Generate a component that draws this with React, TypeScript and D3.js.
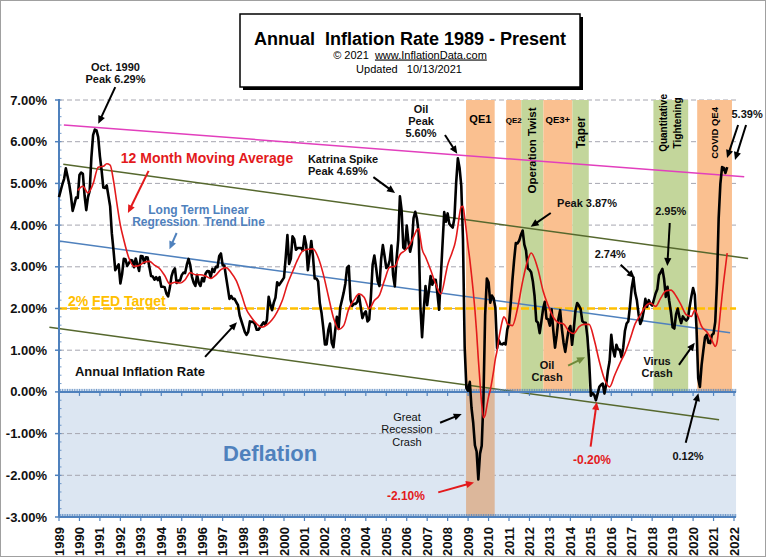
import React from "react";
import * as d3 from "d3";

// ---------- DATA ----------
const yearLabels: number[] = d3.range(1989, 2023);
const percentTicks: number[] = [7, 6, 5, 4, 3, 2, 1, 0, -1, -2, -3];

// Annual inflation rate, monthly from Jan 1989 to Sep 2021 (%)
const inflation: number[] = [
  4.67, 4.83, 4.98, 5.11, 5.36, 5.17, 4.98, 4.71, 4.34, 4.49, 4.66, 4.65,
  5.2, 5.26, 5.23, 4.71, 4.36, 4.67, 4.82, 5.62, 6.16, 6.29, 6.27, 6.11,
  5.65, 5.31, 4.9, 4.89, 4.95, 4.7, 4.45, 3.8, 3.39, 2.92, 2.99, 3.06,
  2.6, 2.82, 3.19, 3.18, 3.02, 3.09, 3.16, 3.15, 2.99, 3.2, 3.05, 2.9,
  3.26, 3.25, 3.09, 3.23, 3.22, 3.0, 2.78, 2.77, 2.69, 2.75, 2.68, 2.75,
  2.52, 2.52, 2.51, 2.36, 2.29, 2.49, 2.77, 2.9, 2.96, 2.61, 2.67, 2.67,
  2.8, 2.86, 2.85, 3.05, 3.19, 3.04, 2.76, 2.62, 2.54, 2.81, 2.61, 2.54,
  2.73, 2.65, 2.84, 2.9, 2.89, 2.75, 2.95, 2.88, 3.0, 2.99, 3.26, 3.32,
  3.04, 3.03, 2.76, 2.5, 2.23, 2.3, 2.23, 2.23, 2.15, 2.08, 1.83, 1.7,
  1.57, 1.44, 1.37, 1.44, 1.69, 1.68, 1.68, 1.62, 1.49, 1.49, 1.55, 1.61,
  1.67, 1.61, 1.73, 2.28, 2.09, 1.96, 2.14, 2.26, 2.63, 2.56, 2.62, 2.68,
  2.74, 3.22, 3.76, 3.07, 3.19, 3.73, 3.66, 3.41, 3.45, 3.45, 3.45, 3.39,
  3.73, 3.53, 2.92, 3.27, 3.62, 3.25, 2.72, 2.72, 2.65, 2.13, 1.9, 1.55,
  1.14, 1.14, 1.48, 1.64, 1.18, 1.07, 1.46, 1.8, 1.51, 2.03, 2.2, 2.38,
  2.6, 2.98, 3.02, 2.22, 2.06, 2.11, 2.11, 2.16, 2.32, 2.04, 1.77, 1.88,
  1.93, 1.69, 1.74, 2.29, 3.05, 3.27, 2.99, 2.65, 2.54, 3.19, 3.52, 3.26,
  2.97, 3.01, 3.15, 3.51, 2.8, 2.53, 3.17, 3.64, 4.69, 4.35, 3.46, 3.42,
  3.99, 3.6, 3.36, 3.55, 4.17, 4.32, 4.15, 3.82, 2.06, 1.31, 1.97, 2.54,
  2.08, 2.42, 2.78, 2.57, 2.69, 2.69, 2.36, 1.97, 2.76, 3.54, 4.31, 4.08,
  4.28, 4.03, 3.98, 3.94, 4.18, 5.02, 5.6, 5.37, 4.94, 3.66, 1.07, 0.09,
  0.03, 0.24, -0.38, -0.74, -1.28, -1.43, -2.1, -1.48, -1.29, -0.18, 1.84, 2.72,
  2.63, 2.14, 2.31, 2.24, 2.02, 1.05, 1.24, 1.15, 1.14, 1.17, 1.14, 1.5,
  1.63, 2.11, 2.68, 3.16, 3.57, 3.56, 3.63, 3.77, 3.87, 3.53, 3.39, 2.96,
  2.93, 2.87, 2.65, 2.3, 1.7, 1.66, 1.41, 1.69, 1.99, 2.16, 1.76, 1.74,
  1.59, 1.98, 1.47, 1.06, 1.36, 1.75, 1.96, 1.52, 1.18, 0.96, 1.24, 1.5,
  1.58, 1.13, 1.51, 1.95, 2.13, 2.07, 1.99, 1.7, 1.66, 1.66, 1.32, 0.76,
  -0.09, -0.03, -0.07, -0.2, -0.04, 0.12, 0.17, 0.2, -0.04, 0.17, 0.5, 0.73,
  1.37, 1.02, 0.85, 1.13, 1.02, 1.01, 0.83, 1.06, 1.46, 1.64, 1.69, 2.07,
  2.5, 2.74, 2.38, 2.2, 1.87, 1.63, 1.73, 1.94, 2.23, 2.04, 2.2, 2.11,
  2.07, 2.21, 2.36, 2.46, 2.8, 2.87, 2.95, 2.7, 2.28, 2.52, 2.18, 1.91,
  1.55, 1.52, 1.86, 2.0, 1.79, 1.65, 1.81, 1.75, 1.71, 1.76, 2.05, 2.29,
  2.49, 2.33, 1.54, 0.33, 0.12, 0.65, 0.99, 1.31, 1.37, 1.18, 1.17, 1.36,
  1.4, 1.68, 2.62, 4.16, 4.99, 5.39, 5.37, 5.25, 5.39,
];

// 12 month moving average, read at these months (%)
const movingAverage: [string, number][] = [
  ["1989-12", 4.83], ["1990-03", 4.93], ["1990-06", 4.77], ["1990-09", 4.99], ["1990-12", 5.39],
  ["1991-03", 5.41], ["1991-05", 5.47], ["1991-07", 5.44], ["1991-09", 5.06], ["1991-11", 4.51],
  ["1992-01", 4.0], ["1992-03", 3.65], ["1992-06", 3.21], ["1992-09", 3.01], ["1992-12", 3.03],
  ["1993-03", 3.11], ["1993-06", 3.13], ["1993-09", 3.04], ["1993-12", 2.96],
  ["1994-03", 2.79], ["1994-06", 2.59], ["1994-09", 2.63], ["1994-12", 2.61],
  ["1995-03", 2.69], ["1995-06", 2.86], ["1995-09", 2.81], ["1995-12", 2.81],
  ["1996-03", 2.78], ["1996-06", 2.72], ["1996-09", 2.8], ["1996-12", 2.93],
  ["1997-03", 2.98], ["1997-06", 2.86], ["1997-09", 2.67], ["1997-12", 2.34],
  ["1998-03", 1.97], ["1998-06", 1.78], ["1998-09", 1.63], ["1998-12", 1.55],
  ["1999-03", 1.61], ["1999-06", 1.73], ["1999-09", 1.92], ["1999-12", 2.19],
  ["2000-03", 2.58], ["2000-06", 2.88], ["2000-09", 3.17], ["2000-12", 3.38],
  ["2001-03", 3.42], ["2001-06", 3.43], ["2001-09", 3.23], ["2001-12", 2.83],
  ["2002-03", 2.3], ["2002-06", 1.78], ["2002-09", 1.5], ["2002-12", 1.59],
  ["2003-03", 1.99], ["2003-06", 2.2], ["2003-09", 2.35], ["2003-12", 2.27],
  ["2004-03", 2.0], ["2004-06", 2.19], ["2004-09", 2.32], ["2004-12", 2.68],
  ["2005-03", 2.99], ["2005-06", 3.01], ["2005-09", 3.29], ["2005-12", 3.39],
  ["2006-03", 3.54], ["2006-06", 3.81], ["2006-07", 3.89], ["2006-08", 3.91], ["2006-09", 3.69],
  ["2006-10", 3.43], ["2006-12", 3.24],
  ["2007-03", 2.93], ["2007-06", 2.59], ["2007-09", 2.35], ["2007-12", 2.85],
  ["2008-01", 3.04], ["2008-02", 3.17], ["2008-03", 3.27], ["2008-04", 3.39], ["2008-05", 3.51],
  ["2008-06", 3.7], ["2008-07", 3.97], ["2008-08", 4.26], ["2008-09", 4.44], ["2008-10", 4.45],
  ["2008-11", 4.18], ["2008-12", 3.85],
  ["2009-01", 3.49], ["2009-02", 3.18], ["2009-03", 2.81], ["2009-04", 2.42], ["2009-05", 1.97],
  ["2009-06", 1.43], ["2009-07", 0.79], ["2009-08", 0.22], ["2009-09", -0.3], ["2009-10", -0.62],
  ["2009-11", -0.56], ["2009-12", -0.34],
  ["2010-01", -0.12], ["2010-02", 0.04], ["2010-03", 0.26], ["2010-04", 0.51], ["2010-05", 0.79],
  ["2010-06", 0.99], ["2010-07", 1.27], ["2010-08", 1.49], ["2010-09", 1.69], ["2010-10", 1.8],
  ["2010-11", 1.75], ["2010-12", 1.64],
  ["2011-03", 1.59], ["2011-06", 2.0], ["2011-09", 2.65], ["2011-12", 3.16],
  ["2012-02", 3.33], ["2012-06", 2.94], ["2012-09", 2.42], ["2012-12", 2.07],
  ["2013-03", 1.79], ["2013-06", 1.66], ["2013-09", 1.63], ["2013-12", 1.46],
  ["2014-03", 1.4], ["2014-06", 1.56], ["2014-09", 1.62], ["2014-12", 1.62],
  ["2015-03", 1.25], ["2015-06", 0.73], ["2015-09", 0.31], ["2015-12", 0.12],
  ["2016-03", 0.4], ["2016-06", 0.68], ["2016-09", 0.93], ["2016-12", 1.26],
  ["2017-03", 1.63], ["2017-06", 1.84], ["2017-09", 2.05], ["2017-12", 2.13],
  ["2018-03", 2.05], ["2018-06", 2.25], ["2018-09", 2.42], ["2018-12", 2.44],
  ["2019-03", 2.3], ["2019-06", 2.08], ["2019-09", 1.85], ["2019-12", 1.81],
  ["2020-02", 1.96], ["2020-04", 1.79], ["2020-06", 1.57], ["2020-09", 1.44], ["2020-12", 1.24],
  ["2021-01", 1.15], ["2021-02", 1.09], ["2021-03", 1.18], ["2021-04", 1.5], ["2021-05", 1.91],
  ["2021-06", 2.3], ["2021-07", 2.67], ["2021-08", 3.0], ["2021-09", 3.33],
];

// Trend / channel lines: [year, %] at each end
const trendNames: string[] = ["Top channel", "Upper channel", "Long term regression", "Lower channel"];
const trendFrom: [number, number][] = [[1989.24, 6.4], [1989.21, 5.46], [1989.0, 3.62], [1988.53, 1.55]];
const trendTo: [number, number][] = [[2022.5, 5.16], [2022.69, 3.2], [2021.81, 1.42], [2021.27, -0.67]];

const fedTarget = 2;

// Policy periods
const bandLabels: string[] = ["QE1", "QE2", "Operation Twist", "QE3+", "Taper", "Quantitative Tightening", "COVID QE4"];
const bandStart: number[] = [2008.9, 2010.86, 2011.6, 2012.68, 2014.1, 2018.06, 2020.2];
const bandEnd: number[] = [2010.3, 2011.6, 2012.68, 2014.1, 2014.9, 2019.76, 2021.9];
const bandIsEasing: boolean[] = [true, true, false, true, false, false, true];

// ---------- LAYOUT ----------
const W = 768;
const H = 558;
const FONT = "Arial, 'Liberation Sans', Helvetica, sans-serif";
const x = d3.scaleLinear().domain([1989, 2022]).range([59, 734]);
const y = d3.scaleLinear().domain([-3, 7]).range([517, 100]);
const plotLeft = x(1989);
const plotRight = x(2022.1);

const C = {
  black: "#000000",
  red: "#e31a1c",
  blue: "#4f81bd",
  gold: "#ffc000",
  pink: "#e23fbd",
  olive: "#56682e",
  grid: "#a6a6b0",
  orange: "#fac090",
  green: "#c3d69b",
  deflation: "#dce6f2",
  tan: "#dcb79b",
  arrowGreen: "#6f8a3a",
};
const trendColors = [C.pink, C.olive, C.blue, C.olive];

type Note = { t: string; yr: number; v: number; anchor?: string; color?: string; size?: number; weight?: string };
const notes: Note[] = [
  { t: "Oct. 1990", yr: 1991.76, v: 7.7 },
  { t: "Peak 6.29%", yr: 1991.76, v: 7.4 },
  { t: "12 Month Moving Average", yr: 1992.02, v: 5.49, anchor: "start", color: C.red, size: 14 },
  { t: "Long Term Linear", yr: 1995.82, v: 4.27, color: C.blue, size: 12 },
  { t: "Regression  Trend Line", yr: 1995.82, v: 3.97, color: C.blue, size: 12 },
  { t: "2% FED Target", yr: 1989.44, v: 2.07, anchor: "start", color: C.gold, size: 14 },
  { t: "Annual Inflation Rate", yr: 1989.78, v: 0.38, anchor: "start", size: 13 },
  { t: "Katrina Spike", yr: 2001.17, v: 5.49, anchor: "start" },
  { t: "Peak 4.69%", yr: 2001.17, v: 5.2, anchor: "start" },
  { t: "Oil", yr: 2006.7, v: 6.7 },
  { t: "Peak", yr: 2006.7, v: 6.4 },
  { t: "5.60%", yr: 2006.7, v: 6.11 },
  { t: "Peak 3.87%", yr: 2013.35, v: 4.44, anchor: "start" },
  { t: "2.95%", yr: 2018.91, v: 4.24 },
  { t: "2.74%", yr: 2015.95, v: 3.21 },
  { t: "Oil", yr: 2012.86, v: 0.55 },
  { t: "Crash", yr: 2012.86, v: 0.26 },
  { t: "Virus", yr: 2018.24, v: 0.65 },
  { t: "Crash", yr: 2018.24, v: 0.36 },
  { t: "Great", yr: 2006.01, v: -0.69, size: 11, weight: "normal" },
  { t: "Recession", yr: 2006.01, v: -0.99, size: 11, weight: "normal" },
  { t: "Crash", yr: 2006.01, v: -1.29, size: 11, weight: "normal" },
  { t: "-2.10%", yr: 2005.96, v: -2.6, color: C.red, size: 12 },
  { t: "-0.20%", yr: 2015.06, v: -1.74, color: C.red, size: 12 },
  { t: "0.12%", yr: 2019.75, v: -1.63 },
  { t: "5.39%", yr: 2022.64, v: 6.56 },
  { t: "Deflation", yr: 1999.32, v: -1.65, color: C.blue, size: 22 },
];

type Pointer = { from: [number, number]; to: [number, number]; color?: string };
const pointers: Pointer[] = [
  { from: [1991.75, 7.31], to: [1990.92, 6.43] },
  { from: [1993.38, 5.3], to: [1992.37, 4.29], color: C.red },
  { from: [1994.75, 3.81], to: [1994.4, 3.42], color: C.blue },
  { from: [1996.14, 0.84], to: [1997.7, 1.67] },
  { from: [2004.37, 5.15], to: [2005.43, 4.77] },
  { from: [2007.87, 6.16], to: [2008.47, 5.71] },
  { from: [2013.04, 4.29], to: [2012.06, 3.96] },
  { from: [2018.86, 4.05], to: [2018.74, 3.02] },
  { from: [2016.46, 3.05], to: [2017.15, 2.73] },
  { from: [2013.89, 0.63], to: [2014.72, 0.83], color: C.arrowGreen },
  { from: [2019.31, 0.65], to: [2020.08, 1.18] },
  { from: [2007.63, -0.74], to: [2008.69, -0.53] },
  { from: [2007.54, -2.41], to: [2009.29, -2.17], color: C.red },
  { from: [2014.99, -1.31], to: [2015.29, -0.24], color: C.red },
  { from: [2019.64, -1.22], to: [2020.26, -0.03] },
  { from: [2022.2, 6.4], to: [2021.66, 5.61] },
  { from: [2022.59, 6.4], to: [2022.05, 5.56] },
];

function Arrow({ p }: { p: Pointer }) {
  const x1 = x(p.from[0]), y1 = y(p.from[1]);
  const x2 = x(p.to[0]), y2 = y(p.to[1]);
  const col = p.color || C.black;
  const dx = x2 - x1, dy = y2 - y1;
  const len = Math.hypot(dx, dy);
  const ux = dx / len, uy = dy / len;
  const hl = 8, hw = 3.6;
  const bx = x2 - ux * hl, by = y2 - uy * hl;
  const pts = `${x2},${y2} ${bx - uy * hw},${by + ux * hw} ${bx + uy * hw},${by - ux * hw}`;
  return (
    <g>
      <line x1={x1} y1={y1} x2={bx + ux} y2={by + uy} stroke={col} strokeWidth={2} />
      <polygon points={pts} fill={col} />
    </g>
  );
}

export default function App() {
  const monthly = inflation.map((v, i) => ({ t: 1989 + i / 12, v }));
  const blackPath = d3
    .line<{ t: number; v: number }>()
    .x((d) => x(d.t))
    .y((d) => y(d.v))(monthly) as string;

  const maPts = movingAverage.map(([m, v]) => {
    const [yy, mm] = m.split("-").map(Number);
    return { t: yy + (mm - 1) / 12, v };
  });
  const redPath = d3
    .line<{ t: number; v: number }>()
    .curve(d3.curveMonotoneX)
    .x((d) => x(d.t))
    .y((d) => y(d.v))(maPts) as string;

  const monthTicks = d3.range(0, 33 * 12 + 2).map((i) => 1989 + i / 12);
  const minorY = d3.range(-3, 7.001, 0.2);

  const axisTicks = (y0: number) => (
    <g>
      <line x1={plotLeft} x2={plotRight} y1={y0} y2={y0} stroke={C.blue} strokeWidth={2} />
      {monthTicks.map((t, i) => (
        <line key={"m" + i} x1={x(t)} x2={x(t)} y1={y0 - 3} y2={y0} stroke={C.blue} strokeWidth={0.8} />
      ))}
      {yearLabels.map((yr) => (
        <line key={"y" + yr} x1={x(yr)} x2={x(yr)} y1={y0} y2={y0 + 4} stroke={C.blue} strokeWidth={1.2} />
      ))}
    </g>
  );

  return (
    <svg
      width={W}
      height={H}
      viewBox={`0 0 ${W} ${H}`}
      style={{ position: "absolute", left: 0, top: 0, background: "#fff", fontFamily: FONT }}
    >
      <rect x={0} y={0} width={W} height={H} fill="#fff" />
      <rect x={0.5} y={0.5} width={765} height={556} fill="none" stroke="#a0a0a0" strokeWidth={1} />

      {/* deflation zone */}
      <rect x={plotLeft} y={y(0)} width={plotRight - plotLeft} height={y(-3) - y(0)} fill={C.deflation} />

      {/* gridlines */}
      {percentTicks
        .filter((v) => v !== 0 && v !== -3)
        .map((v) => (
          <line key={v} x1={plotLeft} x2={plotRight} y1={y(v)} y2={y(v)} stroke={C.grid} strokeWidth={1} strokeDasharray="5 3" />
        ))}

      {/* policy bands */}
      {bandLabels.map((b, i) => {
        const x0 = x(bandStart[i]);
        const x1 = x(bandEnd[i]);
        const fill = bandIsEasing[i] ? C.orange : C.green;
        return (
          <g key={b}>
            <rect x={x0} y={y(7)} width={x1 - x0} height={y(0) - y(7)} fill={fill} />
            {i === 0 && <rect x={x0} y={y(0)} width={x1 - x0} height={y(-3) - y(0)} fill={C.tan} />}
          </g>
        );
      })}

      {/* band labels */}
      {(() => {
        const mid = (i: number) => x((bandStart[i] + bandEnd[i]) / 2);
        return (
          <g fontWeight="bold" fill="#000">
            <text x={mid(0)} y={y(6.46)} textAnchor="middle" fontSize={11}>{bandLabels[0]}</text>
            <text x={mid(1)} y={y(6.46)} textAnchor="middle" fontSize={8}>{bandLabels[1]}</text>
            <text x={mid(3)} y={y(6.46)} textAnchor="middle" fontSize={9.5}>{bandLabels[3]}</text>
            <text transform={`translate(${mid(2)},${y(5.79)}) rotate(-90)`} textAnchor="middle" dominantBaseline="central" fontSize={11.5}>
              {bandLabels[2]}
            </text>
            <text transform={`translate(${mid(4)},${y(6.22)}) rotate(-90)`} textAnchor="middle" dominantBaseline="central" fontSize={12}>
              {bandLabels[4]}
            </text>
            <text transform={`translate(${mid(5) - 7},${y(6.45)}) rotate(-90)`} textAnchor="middle" dominantBaseline="central" fontSize={10}>
              Quantitative
            </text>
            <text transform={`translate(${mid(5) + 7},${y(6.45)}) rotate(-90)`} textAnchor="middle" dominantBaseline="central" fontSize={10}>
              Tightening
            </text>
            <text transform={`translate(${mid(6)},${y(6.21)}) rotate(-90)`} textAnchor="middle" dominantBaseline="central" fontSize={9.5}>
              {bandLabels[6]}
            </text>
          </g>
        );
      })()}

      {/* 2% target */}
      <line x1={plotLeft} x2={plotRight} y1={y(fedTarget)} y2={y(fedTarget)} stroke={C.gold} strokeWidth={2.5} strokeDasharray="8 3" />

      {/* trend & channel lines */}
      {trendNames.map((n, i) => (
        <line
          key={n}
          x1={x(trendFrom[i][0])}
          y1={y(trendFrom[i][1])}
          x2={x(trendTo[i][0])}
          y2={y(trendTo[i][1])}
          stroke={trendColors[i]}
          strokeWidth={1.5}
        />
      ))}

      {/* axes */}
      {axisTicks(y(0))}
      {axisTicks(y(-3))}
      <line x1={plotLeft} x2={plotLeft} y1={y(7) - 1} y2={y(-3)} stroke={C.blue} strokeWidth={2} />
      {minorY.map((v, i) => (
        <line key={"my" + i} x1={plotLeft} x2={plotLeft + 2.5} y1={y(v)} y2={y(v)} stroke={C.blue} strokeWidth={0.8} />
      ))}
      {percentTicks.map((v) => (
        <line key={"ty" + v} x1={plotLeft - 4} x2={plotLeft} y1={y(v)} y2={y(v)} stroke={C.blue} strokeWidth={1.5} />
      ))}

      {/* y labels */}
      {percentTicks.map((v) => (
        <text key={"ly" + v} x={47} y={y(v)} textAnchor="end" dominantBaseline="central" fontSize={13} fontWeight="bold" fill="#111">
          {v.toFixed(2)}%
        </text>
      ))}

      {/* x labels */}
      {yearLabels.map((yr) => (
        <text
          key={"lx" + yr}
          transform={`translate(${x(yr)},${527}) rotate(-90)`}
          textAnchor="end"
          dominantBaseline="central"
          fontSize={13}
          fontWeight="bold"
          fill="#111"
        >
          {yr}
        </text>
      ))}

      {/* data lines */}
      <path d={blackPath} fill="none" stroke={C.black} strokeWidth={2.6} strokeLinejoin="round" />
      <path d={redPath} fill="none" stroke={C.red} strokeWidth={1.6} />

      {/* annotations */}
      {pointers.map((p, i) => (
        <Arrow key={"a" + i} p={p} />
      ))}
      {notes.map((n, i) => (
        <text
          key={"n" + i}
          x={x(n.yr)}
          y={y(n.v)}
          textAnchor={n.anchor || "middle"}
          fontSize={n.size || 11}
          fontWeight={n.weight || "bold"}
          fill={n.color || "#111"}
          style={{ whiteSpace: "pre" }}
        >
          {n.t}
        </text>
      ))}

      {/* title box */}
      <rect x={243} y={17} width={340} height={73} fill="#000" />
      <rect x={240} y={14} width={340} height={73} fill="#fff" stroke="#000" strokeWidth={1.5} />
      <text x={410} y={45} textAnchor="middle" fontSize={18} fontWeight="bold" style={{ whiteSpace: "pre" }}>
        Annual  Inflation Rate 1989 - Present
      </text>
      <text x={410} y={58.5} textAnchor="middle" fontSize={11} style={{ whiteSpace: "pre" }}>
        {"© 2021  "}
        <tspan textDecoration="underline">www.InflationData.com</tspan>
      </text>
      <text x={409} y={73} textAnchor="middle" fontSize={11} style={{ whiteSpace: "pre" }}>
        Updated   10/13/2021
      </text>
    </svg>
  );
}
